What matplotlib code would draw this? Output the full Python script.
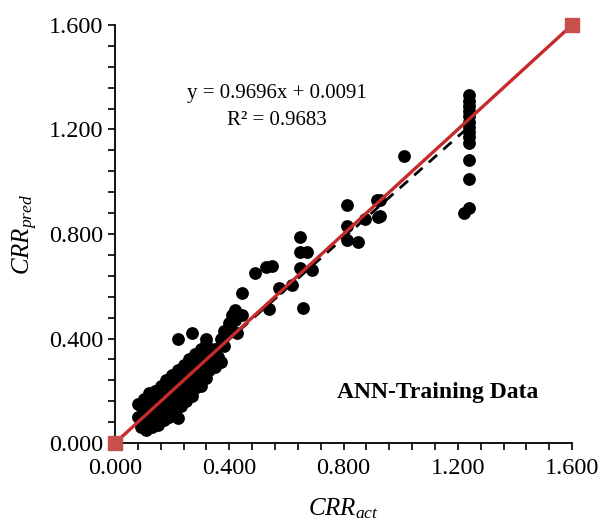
import matplotlib
matplotlib.use("Agg")
import matplotlib.pyplot as plt
from matplotlib.ticker import MultipleLocator, FormatStrFormatter

plt.rcParams["font.family"] = ["Liberation Serif", "DejaVu Serif"]
plt.rcParams["mathtext.fontset"] = "custom"
plt.rcParams["mathtext.rm"] = "Liberation Serif"
plt.rcParams["mathtext.it"] = "Liberation Serif:italic"

# dense cluster of low CRR values
cluster_x = [0.08, 0.08, 0.09, 0.09, 0.10, 0.10, 0.11, 0.11, 0.12, 0.12, 0.12,
             0.13, 0.13, 0.13, 0.14, 0.14, 0.14, 0.15, 0.15, 0.15, 0.16, 0.16,
             0.16, 0.17, 0.17, 0.17, 0.18, 0.18, 0.18, 0.19, 0.19, 0.19, 0.20,
             0.20, 0.20, 0.21, 0.21, 0.21, 0.22, 0.22, 0.22, 0.23, 0.23, 0.23,
             0.24, 0.24, 0.24, 0.25, 0.25, 0.25, 0.26, 0.26, 0.26, 0.27, 0.27,
             0.27, 0.28, 0.28, 0.28, 0.29, 0.29, 0.30, 0.30, 0.30, 0.31, 0.31,
             0.32, 0.32, 0.32, 0.33, 0.33, 0.34, 0.35, 0.36, 0.37, 0.38, 0.39,
             0.40, 0.41, 0.41, 0.42, 0.42, 0.37, 0.35, 0.22, 0.22, 0.27, 0.32,
             0.38]
cluster_y = [0.10, 0.15, 0.06, 0.14, 0.09, 0.17, 0.05, 0.12, 0.08, 0.15, 0.19,
             0.06, 0.11, 0.16, 0.09, 0.13, 0.20, 0.07, 0.12, 0.17, 0.10, 0.15,
             0.22, 0.09, 0.13, 0.19, 0.12, 0.17, 0.24, 0.10, 0.15, 0.21, 0.13,
             0.18, 0.26, 0.12, 0.17, 0.23, 0.15, 0.20, 0.28, 0.14, 0.19, 0.25,
             0.17, 0.22, 0.30, 0.16, 0.21, 0.27, 0.19, 0.24, 0.32, 0.18, 0.23,
             0.29, 0.21, 0.26, 0.34, 0.24, 0.30, 0.22, 0.28, 0.36, 0.26, 0.32,
             0.25, 0.30, 0.38, 0.28, 0.34, 0.31, 0.36, 0.33, 0.40, 0.37, 0.42,
             0.46, 0.49, 0.43, 0.51, 0.47, 0.31, 0.29, 0.40, 0.095, 0.42, 0.40,
             0.43]

# scattered mid / high points
upper_x = [0.426, 0.443, 0.443, 0.490, 0.529, 0.551, 0.539, 0.574, 0.621,
           0.648, 0.648, 0.671, 0.648, 0.691, 0.659, 0.811, 0.812, 0.812,
           0.850, 0.875, 0.916, 0.921, 0.928, 0.928, 1.013,
           1.240, 1.240, 1.240, 1.240, 1.240, 1.240, 1.240, 1.240, 1.240,
           1.240, 1.240, 1.240, 1.240, 1.220]
upper_y = [0.42, 0.573, 0.490, 0.650, 0.672, 0.678, 0.512, 0.593, 0.605,
           0.787, 0.733, 0.731, 0.669, 0.663, 0.518, 0.912, 0.831, 0.778,
           0.771, 0.858, 0.931, 0.866, 0.931, 0.867, 1.097,
           1.33, 1.31, 1.29, 1.27, 1.25, 1.23, 1.21, 1.19, 1.17,
           1.15, 1.084, 1.011, 0.899, 0.880]

ideal_x = [0.0, 1.6]
ideal_y = [0.0, 1.6]

slope = 0.9696
intercept = 0.0091
trend_x = [0.08, 1.24]

fig = plt.figure(figsize=(6.03, 5.30), dpi=100)
ax = fig.add_axes([0.1907, 0.164, 0.758, 0.789])

ax.scatter(cluster_x + upper_x, cluster_y + upper_y, s=85, color="black",
           zorder=3, linewidths=0)
ax.plot(trend_x, [slope * v + intercept for v in trend_x], color="black",
        linestyle=(0, (4, 3)), linewidth=2.0, zorder=2)
ax.plot(ideal_x, ideal_y, color="#c62a2a", linewidth=2.4, zorder=4,
        marker="s", markersize=10, markerfacecolor="#c8504a",
        markeredgecolor="#c8504a", clip_on=False)

ax.set_xlim(0, 1.6)
ax.set_ylim(0, 1.6)
for a in (ax.xaxis, ax.yaxis):
    a.set_major_locator(MultipleLocator(0.4))
    a.set_minor_locator(MultipleLocator(0.08))
    a.set_major_formatter(FormatStrFormatter("%.3f"))
ax.tick_params(which="both", direction="out", length=5, width=1.2,
               color="black", labelsize=17.5)
ax.tick_params(axis="x", pad=6)
ax.spines["top"].set_visible(False)
ax.spines["right"].set_visible(False)
for s in ("left", "bottom"):
    ax.spines[s].set_linewidth(1.3)

ax.set_xlabel(r"$CRR_{act}$", fontsize=18, labelpad=12)
ax.set_ylabel(r"$CRR_{pred}$", fontsize=18, labelpad=6)

ax.text(0.354, 0.804, "y = 0.9696x + 0.0091\nR\u00b2 = 0.9683",
        transform=ax.transAxes, ha="center", va="center", fontsize=15,
        linespacing=1.55)
ax.text(0.705, 0.122, "ANN-Training Data", transform=ax.transAxes,
        ha="center", va="center", fontsize=17, fontweight="bold")

fig.savefig("out.png", dpi=100)
